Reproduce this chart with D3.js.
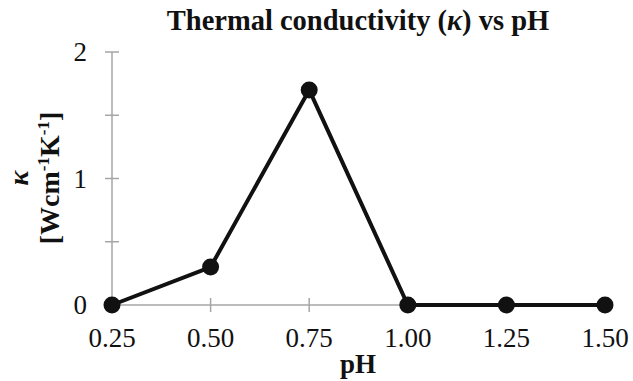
<!DOCTYPE html>
<html><head><meta charset="utf-8">
<script src="https://cdn.jsdelivr.net/npm/d3@7"></script>
<style>body{margin:0;background:#fff}</style>
</head><body>
<svg id="c" width="633" height="381"></svg>
<script>
const phValues = [0.25, 0.50, 0.75, 1.00, 1.25, 1.50];
const kappaValues = [0, 0.3, 1.7, 0, 0, 0];
const xTickLabels = ["0.25", "0.50", "0.75", "1.00", "1.25", "1.50"];
const yTickValues = [0, 1, 2];
const yMinorTicks = [0.5, 1.5];

const svg = d3.select("#c");
const font = "'Liberation Serif','Times New Roman',serif";
const x = d3.scaleLinear().domain([0.25, 1.5]).range([112, 605]);
const y = d3.scaleLinear().domain([0, 2]).range([305, 52]);
const grey = "#a6a6a6";

// axes lines
svg.append("line").attr("x1", x(0.25)).attr("x2", x(1.5)).attr("y1", y(0)).attr("y2", y(0)).attr("stroke", grey).attr("stroke-width", 1.5);
svg.append("line").attr("x1", x(0.25)).attr("x2", x(0.25)).attr("y1", y(0)).attr("y2", y(2)).attr("stroke", grey).attr("stroke-width", 1.5);
// ticks
phValues.forEach(v => svg.append("line").attr("x1", x(v)).attr("x2", x(v)).attr("y1", y(0) - 7).attr("y2", y(0) + 7).attr("stroke", grey).attr("stroke-width", 1.5));
yTickValues.concat(yMinorTicks).forEach(v => svg.append("line").attr("x1", x(0.25) - 7).attr("x2", x(0.25) + 7).attr("y1", y(v)).attr("y2", y(v)).attr("stroke", grey).attr("stroke-width", 1.5));

// tick labels
svg.selectAll(".xl").data(phValues).enter().append("text")
  .attr("x", d => x(d)).attr("y", 347).attr("text-anchor", "middle")
  .attr("font-family", font).attr("font-size", 27).attr("fill", "#111")
  .text((d, i) => xTickLabels[i]);
svg.selectAll(".yl").data(yTickValues).enter().append("text")
  .attr("x", 87).attr("y", d => y(d) + 9).attr("text-anchor", "end")
  .attr("font-family", font).attr("font-size", 27).attr("fill", "#111")
  .text(d => d);

// line
const line = d3.line().x((d, i) => x(phValues[i])).y(d => y(d));
svg.append("path").datum(kappaValues).attr("d", line).attr("fill", "none").attr("stroke", "#111").attr("stroke-width", 4).attr("stroke-linejoin", "round");
svg.selectAll(".pt").data(kappaValues).enter().append("circle")
  .attr("cx", (d, i) => x(phValues[i])).attr("cy", d => y(d)).attr("r", 8.5).attr("fill", "#111");

// title
svg.append("text").attr("x", 358).attr("y", 30).attr("text-anchor", "middle")
  .attr("font-family", font).attr("font-size", 28.5).attr("font-weight", "bold").attr("fill", "#111")
  .html("Thermal conductivity (<tspan font-style='italic'>κ</tspan>) vs pH");
// x title
svg.append("text").attr("x", 358).attr("y", 373).attr("text-anchor", "middle")
  .attr("font-family", font).attr("font-size", 27).attr("font-weight", "bold").attr("fill", "#111").text("pH");
// y title
const yt = svg.append("g").attr("transform", "translate(0,178) rotate(-90)");
yt.append("text").attr("x", 0).attr("y", 28).attr("text-anchor", "middle")
  .attr("font-family", font).attr("font-size", 28).attr("font-weight", "bold").attr("font-style", "italic").attr("fill", "#111").text("κ");
yt.append("text").attr("x", 0).attr("y", 59).attr("text-anchor", "middle")
  .attr("font-family", font).attr("font-size", 28).attr("font-weight", "bold").attr("fill", "#111")
  .html("[Wcm<tspan font-size='17' dy='-10'>-1</tspan><tspan dy='10'>K</tspan><tspan font-size='17' dy='-10'>-1</tspan><tspan dy='10'>]</tspan>");
</script>
</body></html>
